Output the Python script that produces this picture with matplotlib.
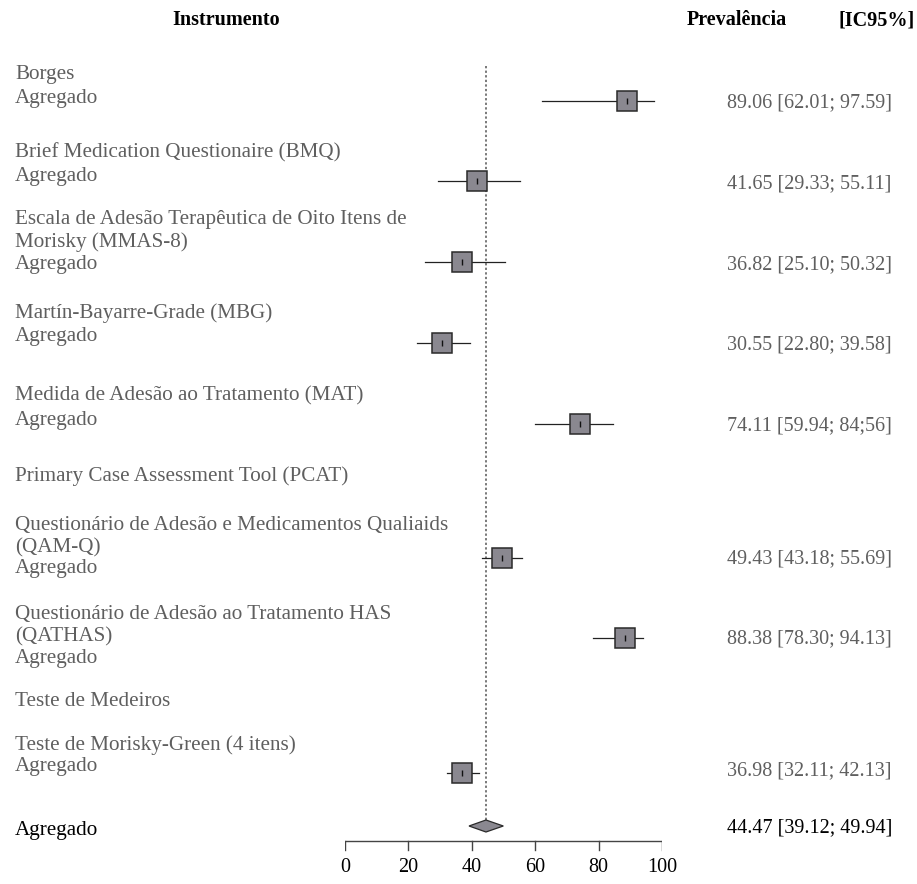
import matplotlib
matplotlib.use('Agg')
import matplotlib.pyplot as plt
from matplotlib.transforms import blended_transform_factory

plt.rcParams['font.family'] = ['Liberation Serif', 'DejaVu Serif']

# dados
instrumentos = ['Borges',
                'Brief Medication Questionaire (BMQ)',
                'Escala de Adesão Terapêutica de Oito Itens de\nMorisky (MMAS-8)',
                'Martín-Bayarre-Grade (MBG)',
                'Medida de Adesão ao Tratamento (MAT)',
                'Primary Case Assessment Tool (PCAT)',
                'Questionário de Adesão e Medicamentos Qualiaids\n(QAM-Q)',
                'Questionário de Adesão ao Tratamento HAS\n(QATHAS)',
                'Teste de Medeiros',
                'Teste de Morisky-Green (4 itens)']
prev = [89.06, 41.65, 36.82, 30.55, 74.11, None, 49.43, 88.38, None, 36.98]
ic_inf = [62.01, 29.33, 25.10, 22.80, 59.94, None, 43.18, 78.30, None, 32.11]
ic_sup = [97.59, 55.11, 50.32, 39.58, 84.56, None, 55.69, 94.13, None, 42.13]
rotulos = ['89.06 [62.01; 97.59]', '41.65 [29.33; 55.11]', '36.82 [25.10; 50.32]',
           '30.55 [22.80; 39.58]', '74.11 [59.94; 84;56]', '', '49.43 [43.18; 55.69]',
           '88.38 [78.30; 94.13]', '', '36.98 [32.11; 42.13]']
agregado = 44.47
agregado_inf = 39.12
agregado_sup = 49.94
agregado_rotulo = '44.47 [39.12; 49.94]'
ticks = [0, 20, 40, 60, 80, 100]

# layout (posicoes verticais em pixels a partir do topo)
y_titulo = [75, 153, 231, 313, 396, 476, 537, 626, 701, 745]
y_agreg = [99, 177, 264, 337, 420, None, 569, 659, None, 767]
y_marca = [101, 181, 262, 343, 424, None, 558, 638, None, 773]
y_valor = [103, 184, 265, 345, 426, None, 559, 639, None, 771]
y_total = 828
y_eixo = 841

W, H = 917, 884
cinza = '#5f5f5f'
fs = 14.5
fs_rot = 15.2

fig = plt.figure(figsize=(W / 100, H / 100), dpi=100)
ax = fig.add_axes([345 / W, 0, (662 - 345) / W, 1])
ax.set_xlim(0, 100)
ax.set_ylim(H, 0)
ax.axis('off')
tr = blended_transform_factory(fig.transFigure, ax.transData)

# cabecalho
ax.text(226 / W, 20, 'Instrumento', transform=tr, ha='center', va='center',
        fontsize=fs, fontweight='bold', color='black')
ax.text(687 / W, 20, 'Prevalência', transform=tr, ha='left', va='center',
        fontsize=fs, fontweight='bold', color='black')
ax.text(915 / W, 20, '[IC95%]', transform=tr, ha='right', va='center',
        fontsize=fs, fontweight='bold', color='black')

for i, nome in enumerate(instrumentos):
    ax.text(15 / W, y_titulo[i], nome, transform=tr, ha='left', va='center',
            fontsize=fs_rot, color=cinza, linespacing=1.2)
    if prev[i] is None:
        continue
    ax.text(15 / W, y_agreg[i], 'Agregado', transform=tr, ha='left', va='center',
            fontsize=fs_rot, color=cinza)
    ax.plot([ic_inf[i], ic_sup[i]], [y_marca[i], y_marca[i]], color='#222222',
            lw=0.9, zorder=2)
    ax.plot(prev[i], y_marca[i], marker='s', markersize=15, markerfacecolor='#8a8890',
            markeredgecolor='#2a2a2a', markeredgewidth=1.1, zorder=3)
    ax.plot(prev[i], y_marca[i], marker='|', markersize=5, color='#111111',
            markeredgewidth=1.0, zorder=4)
    ax.text(727 / W, y_valor[i], rotulos[i], transform=tr, ha='left', va='center',
            fontsize=fs, color=cinza)

# linha do efeito agregado
ax.plot([agregado, agregado], [66, y_total - 7], color='#555555', lw=1.1,
        linestyle=(0, (1.5, 1.5)), zorder=1)

# total
ax.fill([agregado_inf, agregado, agregado_sup, agregado],
        [y_total - 2, y_total - 8, y_total - 2, y_total + 4],
        facecolor='#8a8890', edgecolor='#2a2a2a', lw=0.9, zorder=3)
ax.text(15 / W, y_total + 2, 'Agregado', transform=tr, ha='left', va='center',
        fontsize=fs_rot, color='black')
ax.text(727 / W, y_total, agregado_rotulo, transform=tr, ha='left', va='center',
        fontsize=fs, color='black')

# eixo x
ax.plot([ticks[0], ticks[-1]], [y_eixo, y_eixo], color='#444444', lw=1.0,
        solid_capstyle='butt')
for t in ticks:
    ax.plot([t, t], [y_eixo, y_eixo + 9], color='#444444', lw=1.0)
    ax.text(t, 868, str(t), ha='center', va='center', fontsize=fs, color='black')

fig.savefig('out.png', dpi=100)
